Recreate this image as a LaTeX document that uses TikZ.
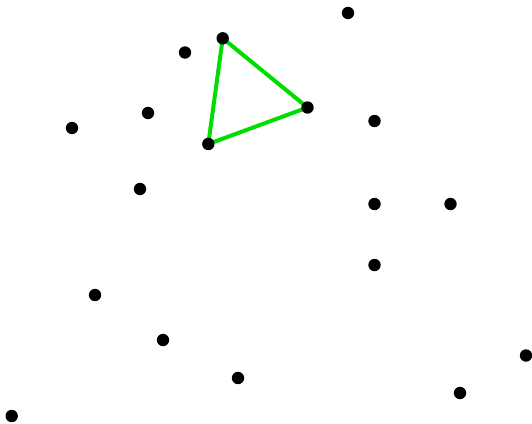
\documentclass[tikz,border=0pt]{standalone}
\begin{document}
\begin{tikzpicture}[x=1pt, y=-1pt]
	% Define custom colors
	\definecolor{edgegreen}{RGB}{0, 222, 0}
	\definecolor{dotcolor}{RGB}{0, 0, 0}
	\useasboundingbox (0, 0) rectangle (532, 423);
	\coordinate (P1) at (348, 13);
	\coordinate (P2) at (185, 52.5);
	\coordinate (TA) at (222.7, 38.3);
	\coordinate (TB) at (307.5, 107.5);
	\coordinate (TC) at (208.3, 144);
	\coordinate (P3) at (148, 113);
	\coordinate (P4) at (72, 128);
	\coordinate (P5) at (374.5, 121);
	\coordinate (P6) at (140, 189);
	\coordinate (P7) at (374.5, 204);
	\coordinate (P8) at (450.5, 204);
	\coordinate (P9) at (374.5, 265);
	\coordinate (P10) at (95, 295);
	\coordinate (P11) at (163, 340);
	\coordinate (P12) at (238, 378);
	\coordinate (P13) at (526, 355.5);
	\coordinate (P14) at (460, 393);
	\coordinate (P15) at (11.7, 416);
	\draw[edgegreen, line width=4pt, line join=round] (TA) -- (TB) -- (TC) -- cycle;
	\fill[dotcolor] (TA) circle (6.2pt);
	\fill[dotcolor] (TB) circle (6.2pt);
	\fill[dotcolor] (TC) circle (6.2pt);
	\fill[dotcolor] (P1) circle (6.2pt);
	\fill[dotcolor] (P2) circle (6.2pt);
	\fill[dotcolor] (P3) circle (6.2pt);
	\fill[dotcolor] (P4) circle (6.2pt);
	\fill[dotcolor] (P5) circle (6.2pt);
	\fill[dotcolor] (P6) circle (6.2pt);
	\fill[dotcolor] (P7) circle (6.2pt);
	\fill[dotcolor] (P8) circle (6.2pt);
	\fill[dotcolor] (P9) circle (6.2pt);
	\fill[dotcolor] (P10) circle (6.2pt);
	\fill[dotcolor] (P11) circle (6.2pt);
	\fill[dotcolor] (P12) circle (6.2pt);
	\fill[dotcolor] (P13) circle (6.2pt);
	\fill[dotcolor] (P14) circle (6.2pt);
	\fill[dotcolor] (P15) circle (6.2pt);
\end{tikzpicture}
\end{document}
